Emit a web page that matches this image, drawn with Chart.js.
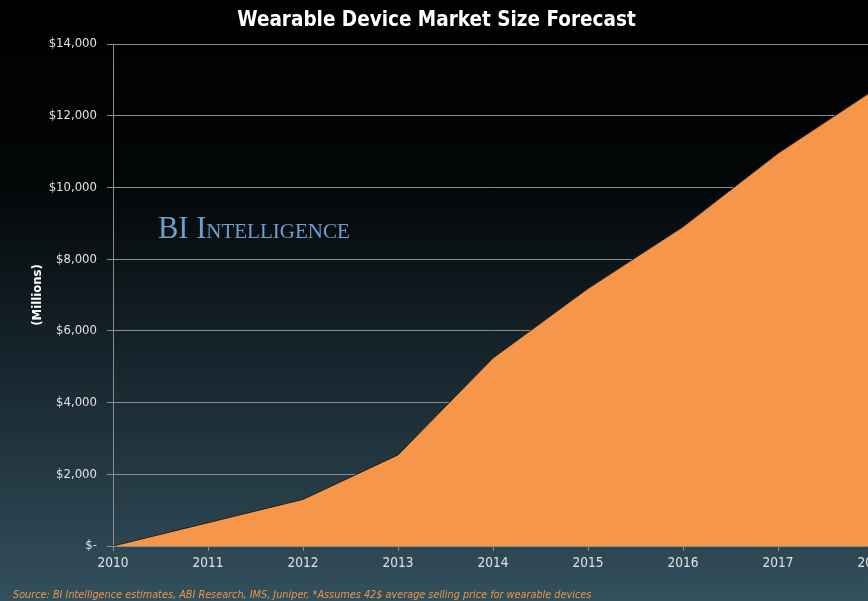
<!DOCTYPE html>
<html>
<head>
<meta charset="utf-8">
<script src="https://cdn.jsdelivr.net/npm/chart.js@4/dist/chart.umd.min.js"></script>
<style>
  html, body { margin: 0; padding: 0; overflow: hidden; background: #000; }
  canvas { display: block; }
</style>
</head>
<body>
<canvas id="area-chart" width="946" height="601"></canvas>
<script>
var years = ['2010', '2011', '2012', '2013', '2014', '2015', '2016', '2017', '2018'];
var marketSize = [0, 650, 1300, 2540, 5240, 7180, 8900, 10950, 12700];

var titleText = 'Wearable Device Market Size Forecast';
var yAxisTitle = '(Millions)';
var watermark = 'BI Intelligence';
var sourceText = 'Source: BI Intelligence estimates, ABI Research, IMS, Juniper, *Assumes 42$ average selling price for wearable devices';

var narrow = "'Liberation Sans Narrow', 'DejaVu Sans Condensed', sans-serif";

// background gradient + overlay texts
var decor = {
  id: 'decor',
  beforeDraw: function(chart) {
    var ctx = chart.ctx;
    var g = ctx.createLinearGradient(0, 0, 0, chart.height);
    g.addColorStop(0, '#000000');
    g.addColorStop(0.3, '#030607');
    g.addColorStop(0.6, '#16252d');
    g.addColorStop(1, '#33505d');
    ctx.save();
    ctx.fillStyle = g;
    ctx.fillRect(0, 0, chart.width, chart.height);
    ctx.restore();
  },
  afterDraw: function(chart) {
    var ctx = chart.ctx;
    ctx.save();
    ctx.font = "small-caps 30.5px 'Liberation Serif', serif";
    ctx.fillStyle = '#6e9fcf';
    ctx.textBaseline = 'alphabetic';
    ctx.fillText(watermark, 158, 238);

    ctx.font = "italic 10.8px " + narrow;
    ctx.fillStyle = '#ef9448';
    ctx.fillText(sourceText, 13, 598);
    ctx.restore();
  }
};

var ctx = document.getElementById('area-chart');
var myAreaChart = new Chart(ctx, {
  type: 'line',
  data: {
    labels: years,
    datasets: [{
      data: marketSize,
      fill: 'origin',
      backgroundColor: '#f5964a',
      borderColor: '#2a1f18',
      borderWidth: 1,
      pointRadius: 0,
      tension: 0
    }]
  },
  options: {
    responsive: false,
    animation: false,
    layout: {
      padding: { left: 0, right: 73, top: 0, bottom: 25 }
    },
    plugins: {
      legend: { display: false },
      tooltip: { enabled: false },
      title: {
        display: true,
        text: titleText,
        color: '#ffffff',
        font: { family: narrow, size: 20.5, weight: 'bold' },
        padding: { top: 8, bottom: 11.4 }
      }
    },
    scales: {
      x: {
        offset: false,
        afterFit: function(scale) { scale.height = 30; },
        grid: {
          drawOnChartArea: false,
          color: '#8c8c8c',
          tickLength: 5
        },
        border: { color: '#8c8c8c' },
        ticks: {
          color: '#e2e2e2',
          font: { family: narrow, size: 13.5 },
          padding: 4,
          maxRotation: 0
        }
      },
      y: {
        min: 0,
        max: 14000,
        afterFit: function(scale) { scale.width = 113; },
        grid: {
          color: '#8c8c8c',
          tickLength: 6
        },
        border: { color: '#8c8c8c' },
        ticks: {
          stepSize: 2000,
          color: '#e2e2e2',
          font: { family: narrow, size: 13 },
          padding: 10,
          callback: function(v) {
            return v === 0 ? '$-' : '$' + v.toLocaleString('en-US');
          }
        },
        title: {
          display: true,
          text: yAxisTitle,
          color: '#ffffff',
          font: { family: narrow, size: 13, weight: 'bold' },
          padding: { top: 30 }
        }
      }
    }
  },
  plugins: [decor]
});
</script>
</body>
</html>
